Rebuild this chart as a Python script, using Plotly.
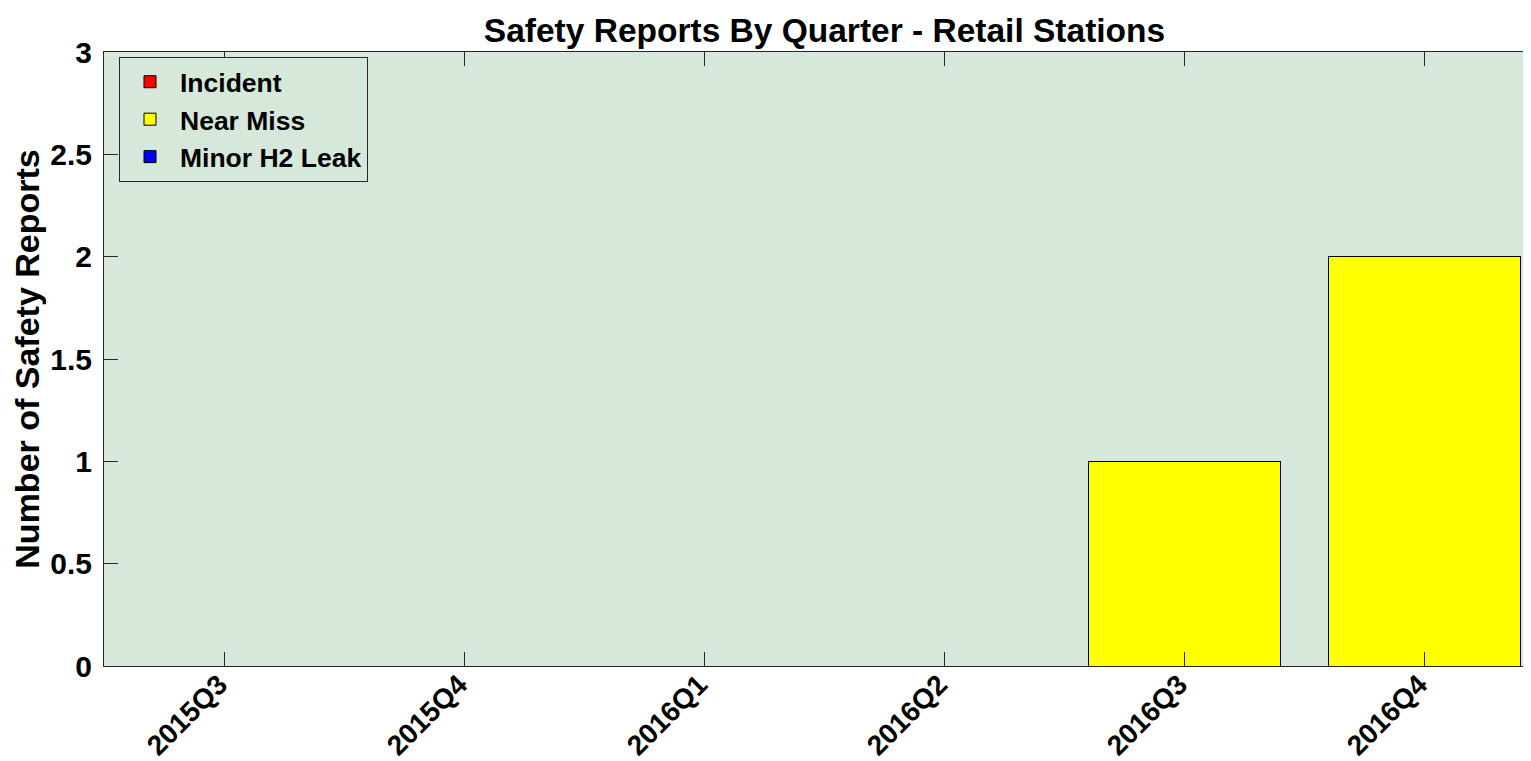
import plotly.graph_objects as go

quarters = ["2015Q3", "2015Q4", "2016Q1", "2016Q2", "2016Q3", "2016Q4"]
incident = [0, 0, 0, 0, 0, 0]
near_miss = [0, 0, 0, 0, 1, 2]
minor_h2_leak = [0, 0, 0, 0, 0, 0]
y_ticks = [0, 0.5, 1, 1.5, 2, 2.5, 3]

series = [
    ("Incident", incident, "rgb(255,0,0)"),
    ("Near Miss", near_miss, "rgb(255,255,0)"),
    ("Minor H2 Leak", minor_h2_leak, "rgb(0,0,255)"),
]

FONT = "Arial, Liberation Sans, Helvetica, sans-serif"
AXIS_COLOR = "rgb(38,38,38)"
BG = "rgb(214,232,217)"

fig = go.Figure()
for name, vals, color in series:
    fig.add_trace(go.Bar(
        x=quarters, y=vals, name=name,
        marker=dict(color=color, line=dict(color="black", width=1)),
    ))

# page body has an 8px margin: figure sized so it ends exactly at the window edge
OFF = 8
W, H = 1531 - OFF, 761 - OFF
L, R, T, B = 104 - OFF, 0, 52 - OFF, 761 - 666
plot_w = W - L - R
plot_h = H - T - B
# full axes extends beyond the window on the right (category spacing ~240px)
cat_px = 240.0
x_right = -0.5 + plot_w / cat_px

fig.update_layout(
    width=W, height=H,
    margin=dict(l=L, r=R, t=T, b=B, pad=0, autoexpand=False),
    paper_bgcolor="white",
    plot_bgcolor=BG,
    barmode="stack",
    bargap=0.2,
    title=dict(
        text="Safety Reports By Quarter - Retail Stations",
        font=dict(family=FONT, size=33.5, color="black", weight="bold"),
        xref="paper", x=(824.5 - OFF - L) / plot_w, xanchor="center",
        yref="container", y=1 - (30 - OFF) / H, yanchor="middle",
        automargin=False,
    ),
    legend=dict(
        x=(119 - 104) / plot_w, y=(666 - 57) / plot_h,
        xanchor="left", yanchor="top",
        bgcolor=BG, bordercolor=AXIS_COLOR, borderwidth=1,
        font=dict(family=FONT, size=26.5, color="black", weight="bold"),
        traceorder="normal",
        itemwidth=50,
        tracegroupgap=0,
    ),
    xaxis=dict(
        type="category",
        range=[-0.5, x_right],
        automargin=False,
        showline=True, linecolor=AXIS_COLOR, linewidth=1,
        mirror="ticks",
        ticks="inside", ticklen=14, tickcolor=AXIS_COLOR, tickwidth=1,
        tickangle=-45,
        tickfont=dict(family=FONT, size=28, color="black", weight="bold"),
        ticklabelstandoff=-10,
        ticklabelshift=-5,
        showgrid=False, zeroline=False,
    ),
    yaxis=dict(
        range=[0, 3],
        tickvals=y_ticks,
        automargin=False,
        showline=True, linecolor=AXIS_COLOR, linewidth=1,
        ticks="inside", ticklen=14, tickcolor=AXIS_COLOR, tickwidth=1,
        tickfont=dict(family=FONT, size=30, color="black", weight="bold"),
        ticklabelstandoff=5,
        showgrid=False, zeroline=False,
        title=dict(
            text="Number of Safety Reports",
            font=dict(family=FONT, size=34, color="black", weight="bold"),
            standoff=2,
        ),
    ),
)

fig.write_html("out.html")
